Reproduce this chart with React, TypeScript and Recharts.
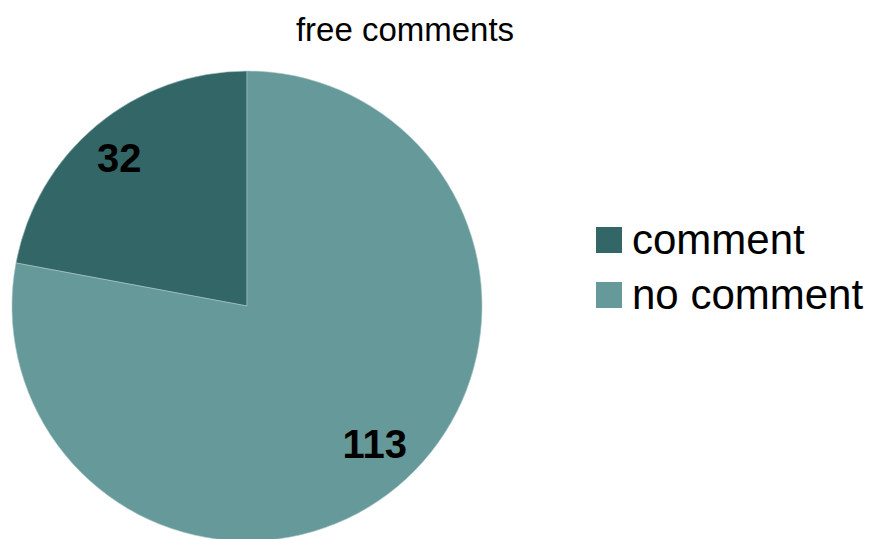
import { PieChart, Pie, Cell, Legend } from "recharts"

const categories = ["comment", "no comment"]
const counts = [32, 113]
const colors = ["#336666", "#669999"]
const title = "free comments"

const data = categories.map((name, i) => ({ name, value: counts[i] }))

const FONT = 'Arial, "Liberation Sans", Arimo, Helvetica, sans-serif'
const RAD = Math.PI / 180

function renderLabel(props: any) {
  const { cx, cy, midAngle, outerRadius, value } = props
  const r = outerRadius * 0.817
  const a = midAngle + 2
  const x = cx + r * Math.cos(-a * RAD)
  const y = cy + r * Math.sin(-a * RAD) - 5
  return (
    <text
      x={x}
      y={y}
      textAnchor="middle"
      dominantBaseline="central"
      fill="#000"
      fontSize={40}
      fontWeight="bold"
      style={{ fontFamily: FONT }}
    >
      {value}
    </text>
  )
}

function LegendBox() {
  return (
    <div style={{ fontFamily: FONT, fontSize: 42, color: "#000" }}>
      {categories.map((name, i) => (
        <div key={name} style={{ display: "flex", alignItems: "center", height: 55 }}>
          <span
            style={{
              display: "inline-block",
              width: 26,
              height: 26,
              background: colors[i],
              marginRight: 10,
            }}
          />
          <span style={{ lineHeight: "55px" }}>{name}</span>
        </div>
      ))}
    </div>
  )
}

export default function App() {
  return (
    <div style={{ position: "absolute", left: 0, top: 0, width: 872, height: 539, background: "#fff", overflow: "hidden" }}>
      <div
        style={{
          position: "absolute",
          left: 0,
          width: 810,
          top: 10,
          textAlign: "center",
          fontFamily: FONT,
          fontSize: 33,
          lineHeight: "40px",
          color: "#000",
        }}
      >
        {title}
      </div>
      <PieChart width={872} height={539} margin={{ top: 0, right: 0, bottom: 0, left: 0 }}>
        <Pie
          data={data}
          dataKey="value"
          nameKey="name"
          cx={247}
          cy={306}
          outerRadius={235}
          startAngle={90}
          endAngle={450}
          stroke="#a8c4c4"
          strokeWidth={0.6}
          label={renderLabel}
          labelLine={false}
          isAnimationActive={false}
        >
          {data.map((entry, i) => (
            <Cell key={`cell-${i}`} fill={colors[i]} />
          ))}
        </Pie>
        <Legend
          content={<LegendBox />}
          wrapperStyle={{ position: "absolute", left: 596, top: 212, width: 276 }}
        />
      </PieChart>
    </div>
  )
}
